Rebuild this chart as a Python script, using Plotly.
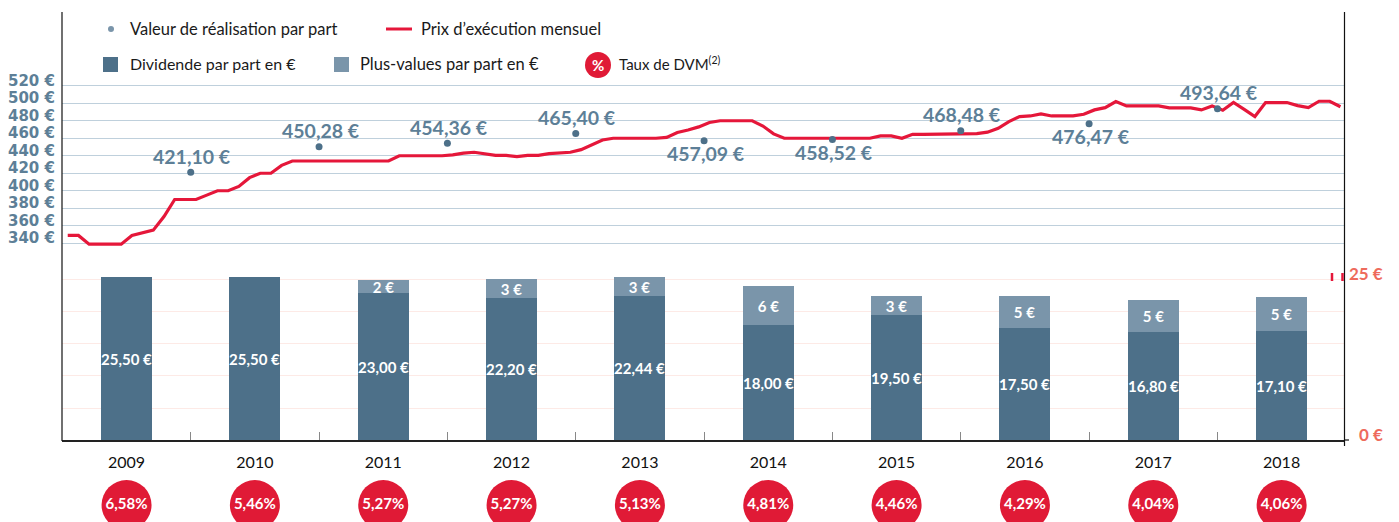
import plotly.graph_objects as go

years = [2009, 2010, 2011, 2012, 2013, 2014, 2015, 2016, 2017, 2018]
dividends = [25.5, 25.5, 23.0, 22.2, 22.44, 18.0, 19.5, 17.5, 16.8, 17.1]
dividend_labels = ["25,50 €", "25,50 €", "23,00 €", "22,20 €", "22,44 €", "18,00 €", "19,50 €", "17,50 €", "16,80 €", "17,10 €"]
gain_years = [2011, 2012, 2013, 2014, 2015, 2016, 2017, 2018]
capital_gains = [2, 3, 3, 6, 3, 5, 5, 5.3]
capital_gain_labels = ["2 €", "3 €", "3 €", "6 €", "3 €", "5 €", "5 €", "5 €"]
dvm_rates = ["6,58%", "5,46%", "5,27%", "5,27%", "5,13%", "4,81%", "4,46%", "4,29%", "4,04%", "4,06%"]
realisation_values = [421.10, 450.28, 454.36, 465.40, 457.09, 458.52, 468.48, 476.47, 493.64]
realisation_labels = ["421,10 €", "450,28 €", "454,36 €", "465,40 €", "457,09 €", "458,52 €", "468,48 €", "476,47 €", "493,64 €"]
realisation_label_above = [True, True, True, True, False, False, True, False, True]
monthly_price = [
    349, 349, 339, 339, 339, 339, 349, 352, 355, 370.5, 390, 390,
    390, 395, 400, 400, 405, 415, 420, 420, 429, 434, 434, 434,
    434, 434, 434, 434, 434, 434, 434, 440, 440, 440, 440, 440,
    441, 443, 444, 442, 440.5, 440.5, 439, 440.5, 440.5, 442.5, 443, 444,
    447, 453, 458, 460, 460, 460, 460, 460, 461, 466.5, 469.5, 473,
    478, 480, 480, 480, 480, 474, 465, 460, 460, 460, 460, 460,
    460, 460, 460, 460, 462.7, 462.7, 460, 464.5, 464.5, 464.5, 464.5, 464.5,
    465.3, 465.3, 467, 471.4, 479, 484.8, 485.5, 487.8, 485.5, 485.5, 485.5, 487.4,
    492.4, 495, 502, 497, 497, 497, 497, 494.7, 494.7, 494.7, 492.4, 497,
    492, 501, 493, 484.8, 500.8, 500.8, 500.8, 497.3, 495, 502.3, 502.3, 496,
]
price_ticks = [340, 360, 380, 400, 420, 440, 460, 480, 500, 520]
price_tick_labels = [f"{v} €" for v in price_ticks]
bar_ticks = [0, 5, 10, 15, 20, 25]
legend_labels = ["Valeur de réalisation par part", "Prix d’exécution mensuel", "Dividende par part en €",
                 "Plus-values par part en €", "Taux de DVM<sup>(2)</sup>"]

W, H = 1399, 522
DARK, LIGHT, RED, SLATE, ORANGE = "#4d7089", "#7a95aa", "#e5173a", "#5d7f97", "#ee6b5c"
FONT = "Lato"
px = lambda v: v / W
py = lambda v: 1 - v / H

months = [2008.5 + (i + 0.5) / 12 for i in range(len(monthly_price))]
dot_x = [y + 0.5 for y in years[:-1]]

fig = go.Figure()
fig.add_bar(x=years, y=dividends, yaxis="y2", marker=dict(color=DARK, line_width=0), width=0.397,
            text=dividend_labels, textposition="inside", insidetextanchor="middle", textangle=0,
            constraintext="none", textfont=dict(family=FONT, size=15, color="white", weight="bold"),
            name="Dividende par part en €")
fig.add_bar(x=gain_years, y=capital_gains, yaxis="y2", marker=dict(color=LIGHT, line_width=0), width=0.397,
            text=capital_gain_labels, textposition="inside", insidetextanchor="middle", textangle=0,
            constraintext="none", textfont=dict(family=FONT, size=15, color="white", weight="bold"),
            name="Plus-values par part en €")
fig.add_scatter(x=months, y=monthly_price, mode="lines", line=dict(color=RED, width=3.2), name="Prix d’exécution mensuel")
fig.add_scatter(x=dot_x, y=realisation_values, mode="markers", marker=dict(color=DARK, size=7),
                name="Valeur de réalisation par part")
fig.add_scatter(x=years, y=[0] * len(years), yaxis="y3", mode="markers+text", cliponaxis=False,
                marker=dict(color="#e01a36", size=50), text=dvm_rates, textposition="middle center",
                textfont=dict(family=FONT, size=15, color="white", weight="bold"), name="Taux de DVM")

ann = []
for xv, v, t, above in zip(dot_x, realisation_values, realisation_labels, realisation_label_above):
    ann.append(dict(xref="x", yref="y", x=xv, y=v, xshift=1.5, yshift=16 if above else -12.5, text=t,
                    xanchor="center", yanchor="middle", showarrow=False,
                    font=dict(family=FONT, size=19.5, color=SLATE, weight="bold")))
for v, t in zip(price_ticks, price_tick_labels):
    ann.append(dict(xref="paper", x=px(56), xanchor="right", yref="y", y=v, yshift=5, yanchor="middle", text=t,
                    showarrow=False, borderpad=0, font=dict(family="DejaVu Sans", size=15, color=SLATE, weight="bold")))
for v, t in ((25, "25 €"), (0, "0 €")):
    ann.append(dict(xref="paper", x=px(1385), xanchor="right", yref="y2", y=v, yshift=6, yanchor="middle", text=t,
                    showarrow=False, font=dict(family=FONT, size=17, color=ORANGE, weight="bold")))
for x0, y0, t, s in zip((128, 419, 128, 358, 617), (28.5, 28.5, 63.5, 63.5, 63.5), legend_labels, (16.5, 16.5, 16, 16.5, 15)):
    ann.append(dict(xref="paper", yref="paper", x=px(x0), y=py(y0), xanchor="left", yanchor="middle", text=t,
                    showarrow=False, font=dict(family=FONT, size=s, color="#1a1a1a")))
ann.append(dict(xref="paper", yref="paper", x=px(598), y=py(65), xanchor="center", yanchor="middle", text="%",
                showarrow=False, font=dict(family=FONT, size=15, color="white", weight="bold")))

def paper_rect(x0, y0, x1, y1, color):
    return dict(type="rect", xref="paper", yref="paper", x0=px(x0), x1=px(x1), y0=py(y0), y1=py(y1),
                fillcolor=color, line_width=0)

def paper_line(x0, y0, x1, y1, color, width):
    return dict(type="line", xref="paper", yref="paper", x0=px(x0), x1=px(x1), y0=py(y0), y1=py(y1),
                line=dict(color=color, width=width))

shapes = [
    paper_line(62, 12, 62, 441, "#111111", 1.2),
    paper_line(1344.5, 12, 1344.5, 446, "#111111", 1.2),
    paper_line(1344, 440, 1349, 440, "#111111", 1.2),
    paper_line(1332, 273, 1332, 281, RED, 2.5),
    paper_line(1342.5, 273, 1342.5, 281, RED, 2.5),
    dict(type="circle", xref="paper", yref="paper", x0=px(108), x1=px(114), y0=py(32), y1=py(26), fillcolor=LIGHT, line_width=0),
    paper_line(386, 29, 412, 29, RED, 3),
    paper_rect(103, 57, 118, 72, DARK),
    paper_rect(334, 57, 349, 72, LIGHT),
    dict(type="circle", xref="paper", yref="paper", x0=px(585), x1=px(611), y0=py(78), y1=py(52), fillcolor="#e01a36", line_width=0),
]

fig.update_layout(
    width=W, height=H, autosize=False, margin=dict(l=0, r=0, t=0, b=0), barmode="stack",
    paper_bgcolor="white", plot_bgcolor="rgba(0,0,0,0)", showlegend=False, bargap=0,
    font=dict(family=FONT), annotations=ann, shapes=shapes,
    xaxis=dict(domain=[px(62), px(1344.5)], range=[2008.497, 2018.49], anchor="y2", tickvals=years,
               ticktext=[str(y) for y in years], ticks="", showgrid=False, zeroline=False,
               showline=True, linecolor="#222222", linewidth=1.5,
               tickfont=dict(family=FONT, size=16, color="#111111"), ticklabelstandoff=7,
               minor=dict(tickvals=[y + 0.5 for y in years], ticks="inside", ticklen=8, tickcolor="#888888", tickwidth=1, showgrid=False)),
    yaxis=dict(domain=[py(250), py(12)], range=[332.3, 604.3], anchor="x", tickvals=price_ticks,
               showticklabels=False, ticks="", showgrid=True, gridcolor="#bfd0dc", gridwidth=1.3, zeroline=False),
    yaxis2=dict(domain=[py(440), py(270)], range=[0, 26.56], anchor="x", tickvals=bar_ticks,
                showticklabels=False, ticks="", showgrid=True, gridcolor="#fdeae6", gridwidth=1.3, zeroline=False),
    yaxis3=dict(domain=[0, py(470)], range=[-17, 35], anchor="x", showticklabels=False, ticks="",
                showgrid=False, zeroline=False),
)
fig.write_html("out.html", config=dict(displayModeBar=False),
               post_script="document.body.style.margin='0';")
